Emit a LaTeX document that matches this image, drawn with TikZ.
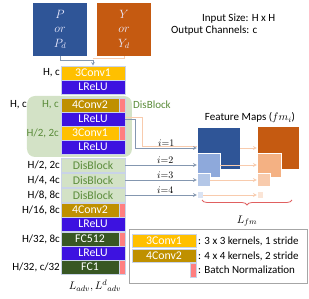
\documentclass[tikz,border=0pt]{standalone}
\usepackage{fontspec}
\setmainfont{Carlito}
\usetikzlibrary{decorations.pathreplacing}
\definecolor{pblue}{HTML}{2F5597}
\definecolor{yorange}{HTML}{C55A11}
\definecolor{convgold}{HTML}{FFC000}
\definecolor{convdark}{HTML}{BF9000}
\definecolor{relublue}{HTML}{3D12E0}
\definecolor{fcgreen}{HTML}{385723}
\definecolor{bnpink}{HTML}{FF7F80}
\definecolor{dbfill}{HTML}{D3E2C6}
\definecolor{dbtext}{HTML}{5B8C3A}
\definecolor{edgegray}{HTML}{C9D3E8}
\definecolor{linkblue}{HTML}{8497B0}
\definecolor{linkorange}{HTML}{F8CBAD}
\definecolor{fmblueb}{HTML}{8EA9DB}
\definecolor{fmbluec}{HTML}{B4C7E7}
\definecolor{fmblued}{HTML}{DAE3F3}
\definecolor{fmorangeb}{HTML}{F4B183}
\definecolor{fmorangec}{HTML}{F8CBAD}
\definecolor{fmoranged}{HTML}{FBE5D6}
\definecolor{bracered}{HTML}{E06060}
\begin{document}
\begin{tikzpicture}[x=1pt, y=-1pt, >=stealth, font=\fontsize{11}{12}\selectfont,
  layerbox/.style={draw=edgegray, line width=0.5pt, minimum height=14pt, inner sep=0pt, text=white, font=\fontsize{11.8}{12}\selectfont},
  fullbox/.style={layerbox, minimum width=64pt},
  partbox/.style={layerbox, minimum width=58pt},
  bnbar/.style={layerbox, fill=bnpink, minimum width=6pt},
  inbox/.style={minimum width=54pt, minimum height=53pt, align=center, text=white!92!blue, font=\fontsize{11.5}{14.5}\selectfont},
  fmbox/.style={draw=white, line width=0.4pt, inner sep=0pt},
  dimlabel/.style={anchor=east, inner sep=0pt},
  idx/.style={above, inner sep=1pt, font=\fontsize{10}{12}\selectfont},
  linkb/.style={draw=linkblue, line width=0.7pt},
  linko/.style={draw=linkorange, line width=0.7pt}]
\useasboundingbox (0,0) rectangle (309,299);

\node[inbox, fill=pblue] (P) at (60,29.5) {$P$\\$or$\\$P_d$};
\node[inbox, fill=yorange] (Y) at (124,29.5) {$Y$\\$or$\\$Y_d$};
\node[anchor=west, inner sep=0pt] (insize) at (202,19) {Input Size: H x H};
\node[anchor=west, inner sep=0pt] (outch) at (171,31) {Output Channels: c};

\node[fill=dbfill, rounded corners=8pt, minimum width=105pt, minimum height=61pt] (group) at (79.5,126.5) {};
\node[anchor=west, inner sep=0pt, text=dbtext] (grouplabel) at (133,105) {DisBlock};

\node[fullbox, fill=convgold] (c1) at (93,73) {3Conv1};
\node[fullbox, fill=relublue] (r1) at (93,87) {LReLU};
\node[partbox, fill=convdark] (c2) at (90,105) {4Conv2};
\node[bnbar] (c2bn) at (122,105) {};
\node[fullbox, fill=relublue] (r2) at (93,119) {LReLU};
\node[partbox, fill=convgold] (c3) at (90,133) {3Conv1};
\node[bnbar] (c3bn) at (122,133) {};
\node[fullbox, fill=relublue] (r3) at (93,147) {LReLU};
\node[fullbox, fill=dbfill, text=dbtext] (db1) at (93,165) {DisBlock};
\node[fullbox, fill=dbfill, text=dbtext] (db2) at (93,180) {DisBlock};
\node[fullbox, fill=dbfill, text=dbtext] (db3) at (93,195) {DisBlock};
\node[partbox, fill=convdark] (c4) at (90,210) {4Conv2};
\node[bnbar] (c4bn) at (122,210) {};
\node[fullbox, fill=relublue] (r4) at (93,224) {LReLU};
\node[partbox, fill=fcgreen] (fc1) at (90,239) {FC512};
\node[bnbar] (fc1bn) at (122,239) {};
\node[fullbox, fill=relublue] (r5) at (93,253) {LReLU};
\node[partbox, fill=fcgreen] (fc2) at (90,267) {FC1};
\node[bnbar] (fc2bn) at (122,267) {};
\node[inner sep=0pt] (loss) at (95,286) {$L_{adv}, L^{d}{}_{adv}$};

\node[dimlabel] at (60,73) {H, c};
\node[dimlabel] at (27,105) {H, c};
\node[dimlabel, text=dbtext] at (59,105) {H, c};
\node[dimlabel, text=dbtext] at (59,133) {H/2, 2c};
\node[dimlabel] at (60,165) {H/2, 2c};
\node[dimlabel] at (60,180) {H/4, 4c};
\node[dimlabel] at (60,195) {H/8, 8c};
\node[dimlabel] at (60,210) {H/16, 8c};
\node[dimlabel] at (60,239) {H/32, 8c};
\node[dimlabel] at (60,267) {H/32, c/32};

\node (fmtitle) at (250,118) {Feature Maps ($fm_i$)};
\node[fmbox, fill=pblue, minimum width=43pt, minimum height=42pt] (fb1) at (218.5,148) {};
\node[fmbox, fill=fmblueb, minimum width=23pt, minimum height=24pt] (fb2) at (208.5,165) {};
\node[fmbox, fill=fmbluec, minimum width=13pt, minimum height=13pt] (fb3) at (203.5,180) {};
\node[fmbox, fill=fmblued, minimum width=6pt, minimum height=7pt] (fb4) at (200,195) {};
\node[fmbox, fill=yorange, minimum width=42pt, minimum height=43pt] (fo1) at (278,148) {};
\node[fmbox, fill=fmorangeb, minimum width=24pt, minimum height=24pt] (fo2) at (269,165) {};
\node[fmbox, fill=fmorangec, minimum width=13pt, minimum height=13pt] (fo3) at (263.5,180) {};
\node[fmbox, fill=fmoranged, minimum width=6pt, minimum height=7pt] (fo4) at (260,195) {};

\coordinate (join) at (93,60);
\draw[linko] (Y.south) |- ([yshift=1.5pt]join);
\draw[linkb] (P.south) |- (join);
\draw[linkb, ->] (join) -- (c1.north);

\draw[linko] ([yshift=2pt]r2.east) -| ([xshift=-54pt, yshift=2pt]fb1.west) -- ([yshift=2pt]fb1.west);
\draw[linkb, ->] (r2.east) -| ([xshift=-61pt]fb1.west) -- node[idx] {$i{=}1$} (fb1.west);
\draw[linkb, ->] (db1.east) -- node[idx, pos=0.56] {$i{=}2$} (fb2.west);
\draw[linkb, ->] (db2.east) -- node[idx, pos=0.56] {$i{=}3$} (fb3.west);
\draw[linkb, ->] (db3.east) -- node[idx, pos=0.56] {$i{=}4$} (fb4.west);

\draw[linko, ->] (fb1.east) -- (fo1.west);
\draw[linko, ->] (fb2.east) -- (fo2.west);
\draw[linko, ->] (fb3.east) -- (fo3.west);
\draw[linko, ->] (fb4.east) -- (fo4.west);

\coordinate (bl) at (202,200);
\coordinate (br) at (292,200);
\draw[decorate, decoration={brace, amplitude=5pt, mirror}, draw=bracered, line width=0.8pt] (bl) -- (br);
\node (lfm) at (247,221) {$L_{fm}$};

\node[draw=gray!70, line width=0.8pt, minimum width=178pt, minimum height=54pt] (legend) at (218,256) {};
\node[fullbox, fill=convgold, minimum height=13pt] (key1) at (164,240.5) {3Conv1};
\node[fullbox, fill=convdark, minimum height=13pt] (key2) at (164,255.5) {4Conv2};
\node[bnbar] (key3) at (193,270) {};
\node[anchor=west, inner sep=0pt] at (198,241) {: 3 x 3 kernels, 1 stride};
\node[anchor=west, inner sep=0pt] at (198,256) {: 4 x 4 kernels, 2 stride};
\node[anchor=west, inner sep=0pt] at (198,270) {: Batch Normalization};
\end{tikzpicture}
\end{document}
